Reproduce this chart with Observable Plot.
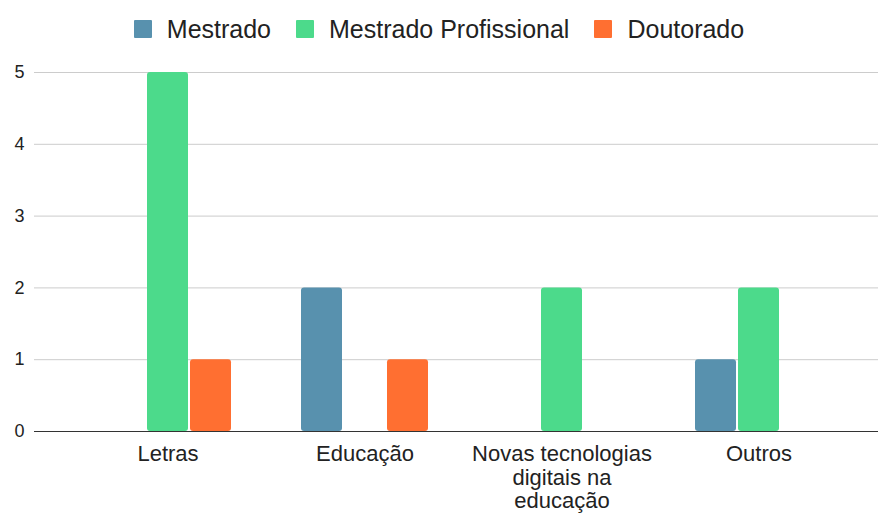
<!DOCTYPE html>
<html>
<head>
<meta charset="utf-8">
<script src="https://cdn.jsdelivr.net/npm/d3@7"></script>
<script src="https://cdn.jsdelivr.net/npm/@observablehq/plot@0.6"></script>
<style>
  html, body { margin: 0; padding: 0; background: #fff; }
  body { width: 878px; height: 514px; overflow: hidden; font-family: "Liberation Sans", Arial, sans-serif; }
  #legend { height: 50px; display: flex; justify-content: center; align-items: center; gap: 25px; font-size: 25px; color: #222; padding-top: 8px; box-sizing: border-box; }
  #legend .item { display: flex; align-items: center; gap: 15px; }
  #legend .sw { width: 18px; height: 18px; border-radius: 1px; }
</style>
</head>
<body>
<div id="legend"></div>
<div id="chart"></div>
<script>
const categories = ["Letras", "Educação", "Novas tecnologias digitais na educação", "Outros"];
const tickLabels = ["Letras", "Educação", "Novas tecnologias\ndigitais na\neducação", "Outros"];
const series = ["Mestrado", "Mestrado Profissional", "Doutorado"];
const colors = ["#5891ae", "#4cda8b", "#ff6f31"];
const mestrado = [0, 2, 0, 1];
const mestradoProfissional = [5, 0, 2, 2];
const doutorado = [1, 1, 0, 0];
const yTicks = [0, 1, 2, 3, 4, 5];

const values = [mestrado, mestradoProfissional, doutorado];
const legend = document.getElementById("legend");
series.forEach((s, i) => {
  const it = document.createElement("div");
  it.className = "item";
  it.innerHTML = `<span class="sw" style="background:${colors[i]}"></span><span>${s}</span>`;
  legend.appendChild(it);
});

const offsets = [-43, 0, 43];
const barMarks = series.map((s, i) => Plot.barY(
  categories.map((c, j) => ({category: c, value: values[i][j]})).filter(d => d.value > 0),
  {x: "category", y: "value", fill: colors[i], dx: offsets[i], insetLeft: 78, insetRight: 78, rx: 3}
));

const chart = Plot.plot({
  width: 878,
  height: 464,
  marginLeft: 34,
  marginRight: 0,
  marginTop: 22,
  marginBottom: 83,
  style: {fontFamily: "'Liberation Sans', Arial, sans-serif", background: "#fff"},
  x: {domain: categories, padding: 0, paddingOuter: 0.142, align: 0.62, label: null},
  y: {domain: [0, 5], label: null},
  marks: [
    Plot.ruleY(yTicks.filter(d => d > 0), {stroke: "#cccccc", strokeWidth: 1}),
    ...barMarks,
    Plot.ruleY([0], {stroke: "#333", strokeWidth: 1.2}),
    Plot.axisY(yTicks, {tickSize: 0, tickPadding: 10, fontSize: 18, fill: "#222", label: null, tickFormat: d3.format("d")}),
    Plot.axisX({tickSize: 0, tickPadding: 13, fontSize: 22, fill: "#222", lineHeight: 1.07, label: null,
      tickFormat: d => tickLabels[categories.indexOf(d)], textAnchor: "middle"})
  ]
});
document.getElementById("chart").appendChild(chart);
</script>
</body>
</html>
